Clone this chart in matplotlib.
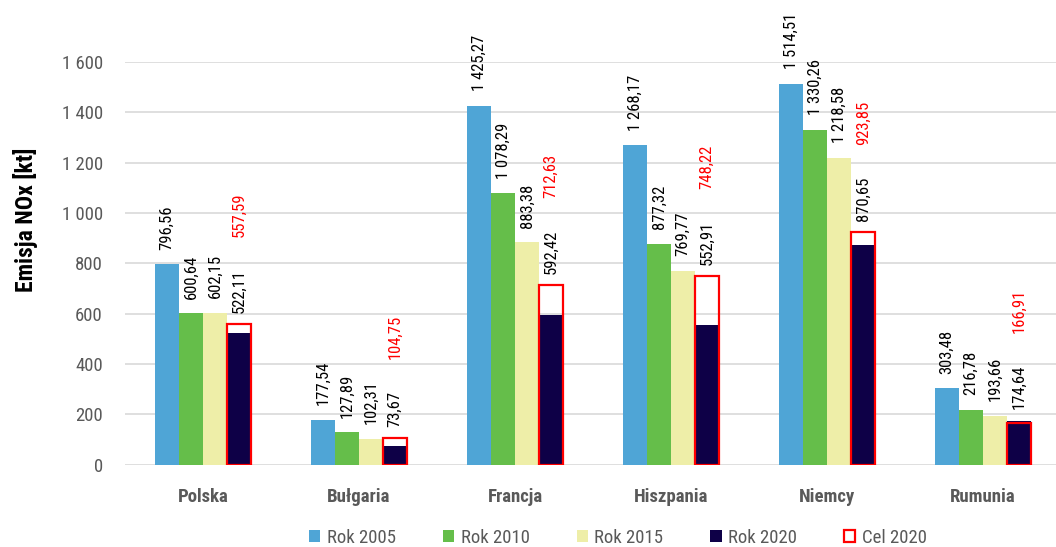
import matplotlib
matplotlib.use("Agg")
import matplotlib.pyplot as plt
from matplotlib import font_manager as fm
import numpy as np

# NOx emissions per country [kt]
countries = ["Polska", "Bułgaria", "Francja", "Hiszpania", "Niemcy", "Rumunia"]
rok_2005 = [796.56, 177.54, 1425.27, 1268.17, 1514.51, 303.48]
rok_2010 = [600.64, 127.89, 1078.29, 877.32, 1330.26, 216.78]
rok_2015 = [602.15, 102.31, 883.38, 769.77, 1218.58, 193.66]
rok_2020 = [522.11, 73.67, 592.42, 552.91, 870.65, 174.64]
cel_2020 = [557.59, 104.75, 712.63, 748.22, 923.85, 166.91]

series_labels = ["Rok 2005", "Rok 2010", "Rok 2015", "Rok 2020"]
target_label = "Cel 2020"
y_label = "Emisja NOx [kt]"
y_ticks = [0, 200, 400, 600, 800, 1000, 1200, 1400, 1600]

colors = ["#4FA5D6", "#65BE4A", "#EEEEA8", "#0E0047"]
target_color = "#FF0000"
grey = "#595959"

# pick a narrow sans-serif face, preferring one that also ships a bold weight
weight_map = {"ultralight": 200, "light": 300, "normal": 400, "regular": 400,
              "book": 400, "medium": 500, "roman": 400, "semibold": 600,
              "demibold": 600, "demi": 600, "bold": 700, "heavy": 800,
              "extra bold": 800, "black": 900}
candidates = {}
for f in fm.fontManager.ttflist:
    if ("Narrow" in f.name or "Condensed" in f.name) and "Mono" not in f.name \
            and "Serif" not in f.name:
        w = f.weight if isinstance(f.weight, int) else weight_map.get(str(f.weight).lower(), 400)
        if f.style == "normal":
            candidates.setdefault(f.name, set()).add(w)

preferred = ["Liberation Sans Narrow", "Arial Narrow", "Nimbus Sans Narrow",
             "Roboto Condensed", "Open Sans Condensed", "DejaVu Sans Condensed"]
ordered = [n for n in preferred if n in candidates] + sorted(
    n for n in candidates if n not in preferred)
narrow_family = None
bold_family = None
for n in ordered:
    ws = candidates[n]
    if any(w >= 600 for w in ws) and any(w < 600 for w in ws):
        narrow_family = bold_family = n
        break
if narrow_family is None:
    narrow_family = ordered[0] if ordered else "Roboto"
    bold_family = "Roboto"

plt.rcParams["font.family"] = [narrow_family, "DejaVu Sans"]


def pl_number(v, decimals=2):
    s = f"{v:,.{decimals}f}"
    return s.replace(",", " ").replace(".", ",")


W, H = 1056, 547
fig = plt.figure(figsize=(W / 100, H / 100), dpi=100)
ax = fig.add_axes([125 / W, 82.5 / H, 936 / W, 402.5 / H])

x = np.arange(len(countries))
bw = 0.154
offsets = [-1.5, -0.5, 0.5, 1.5]
series = [rok_2005, rok_2010, rok_2015, rok_2020]
label_size = 12

handles = []
label_texts = {}
for k, (vals, lab, col, off) in enumerate(zip(series, series_labels, colors, offsets)):
    bars = ax.bar(x + off * bw, vals, width=bw, color=col, label=lab, zorder=2,
                  linewidth=0)
    handles.append(bars)
    for i, (xi, v) in enumerate(zip(x + off * bw, vals)):
        if k == 3:
            # 2020 labels sit above the target outline when it is taller
            anchor, dy = max(v, cel_2020[i]), 8
        else:
            anchor, dy = v, 10.5
        t = ax.annotate(pl_number(v), xy=(xi, anchor), xytext=(0, dy),
                        textcoords="offset points", rotation=90,
                        ha="center", va="bottom", fontsize=label_size,
                        color="black", zorder=5)
        label_texts[(k, i)] = t

# target bars: outline only, drawn on top of the 2020 bars
cel_bars = ax.bar(x + offsets[3] * bw, cel_2020, width=bw, facecolor="none",
                  edgecolor=target_color, linewidth=1.6, zorder=3,
                  label=target_label)
handles.append(cel_bars)

for i, v in enumerate(cel_2020):
    ax.annotate(pl_number(v), xy=(0.5, 1.0), xycoords=label_texts[(3, i)],
                xytext=(0, 23), textcoords="offset points", rotation=90,
                ha="center", va="bottom", fontsize=label_size,
                color=target_color, zorder=5)

ax.set_xlim(-0.5, len(countries) - 0.5)
ax.set_ylim(0, 1600)
ax.set_yticks(y_ticks)
ax.set_yticklabels([pl_number(t, 0) for t in y_ticks], fontsize=13.5, color=grey)
ax.set_xticks(x)
ax.set_xticklabels(countries, fontsize=13.5, fontweight="bold", color=grey,
                   family=[bold_family, "DejaVu Sans"])
ax.tick_params(axis="both", length=0)
ax.tick_params(axis="y", pad=16)
ax.tick_params(axis="x", pad=17)
ax.grid(axis="y", color="#D9D9D9", linewidth=1.2, zorder=0)
ax.set_axisbelow(True)
for s in ax.spines.values():
    s.set_visible(False)

fig.text(25 / W, 1 - 220 / H, y_label, rotation=90, ha="center", va="center",
         fontsize=17, fontweight="bold", color="black",
         family=[bold_family, "DejaVu Sans"])

fig.legend(handles=handles, labels=series_labels + [target_label],
           loc="center", bbox_to_anchor=(618 / W, 1 - 538 / H), ncol=5,
           frameon=False, fontsize=13.5, labelcolor=grey,
           handlelength=0.6, handleheight=0.6, handletextpad=0.35,
           columnspacing=2.5)

fig.savefig("out.png", dpi=100)
